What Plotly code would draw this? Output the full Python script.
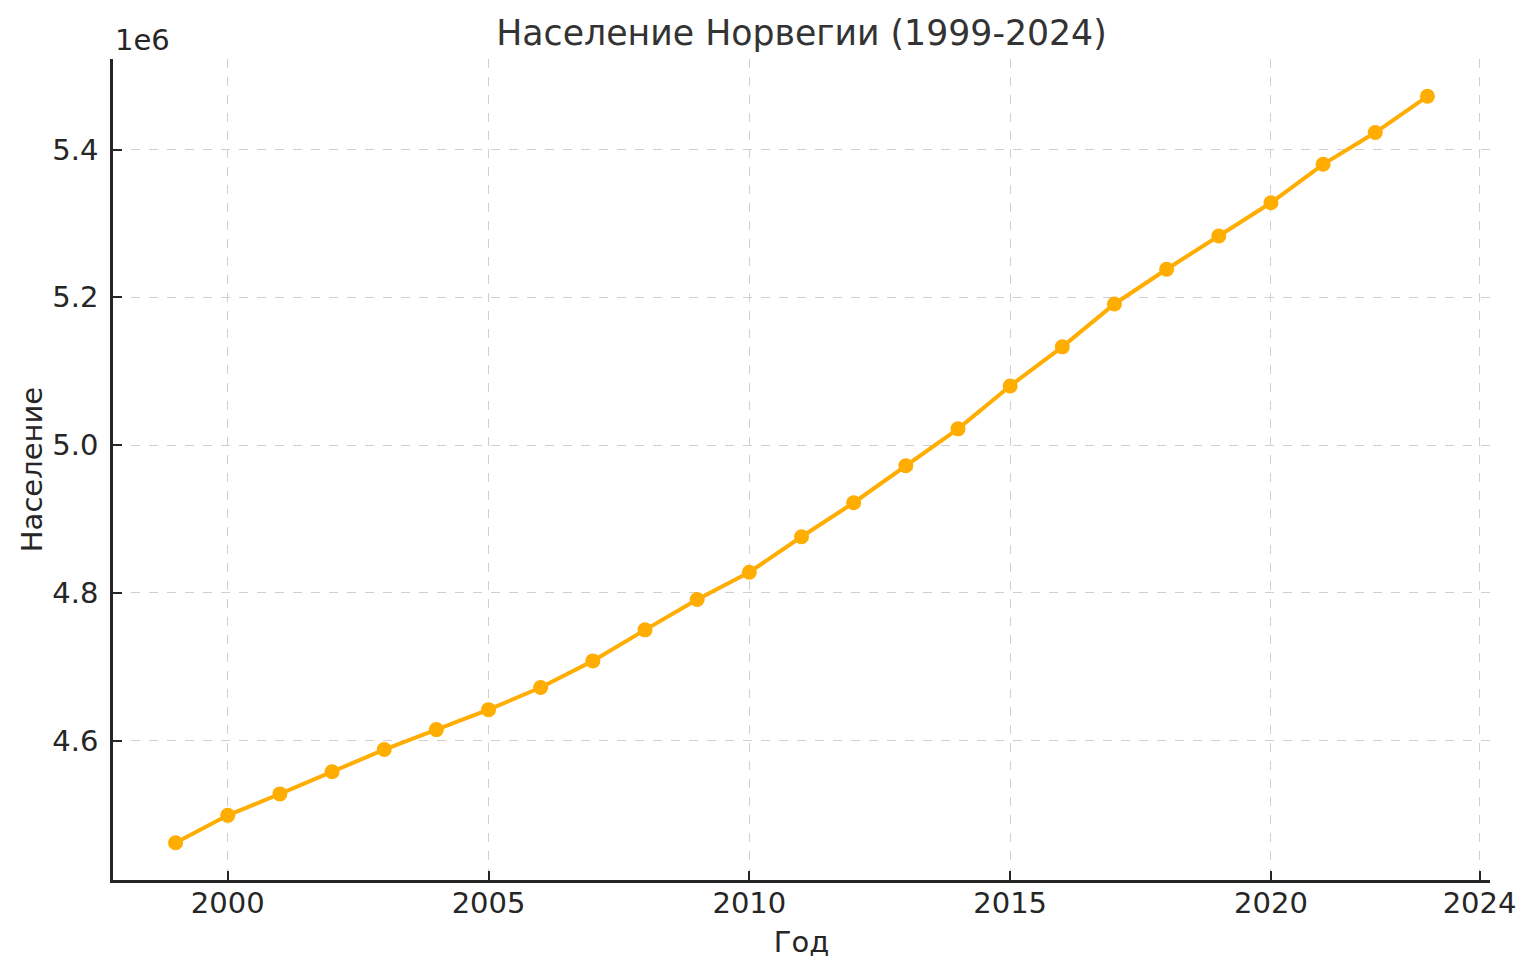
import plotly.graph_objects as go

# население Норвегии
years = list(range(1999, 2024))
population = [
    4462000, 4499000, 4528000, 4558000, 4588000, 4615000, 4642000, 4672000,
    4708000, 4750000, 4791000, 4828000, 4876000, 4922000, 4972000, 5022000,
    5080000, 5133000, 5191000, 5238000, 5283000, 5328000, 5380000, 5423000,
    5472000,
]
x_ticks = [2000, 2005, 2010, 2015, 2020, 2024]
y_ticks = [4.6e6, 4.8e6, 5.0e6, 5.2e6, 5.4e6]
y_ticklabels = ["4.6", "4.8", "5.0", "5.2", "5.4"]

FONT = "DejaVu Sans"
INK = "#262626"
FS = 29

fig = go.Figure()
fig.add_trace(go.Scatter(
    x=years, y=population, mode="lines+markers",
    line=dict(color="#FFAD00", width=4),
    marker=dict(color="#FFAD00", size=15),
    showlegend=False,
))

axis_style = dict(
    showline=True, linecolor=INK, linewidth=2.5,
    ticks="inside", ticklen=9, tickwidth=2, tickcolor=INK,
    showgrid=True, gridcolor="#cfcfcf", griddash="dash", gridwidth=1,
    zeroline=False, automargin=False,
    tickfont=dict(family=FONT, size=FS, color=INK),
)

fig.update_xaxes(
    range=[1997.8, 2024.2], tickvals=x_ticks, **axis_style,
    ticklabelstandoff=-5,
    title=dict(text="Год", font=dict(family=FONT, size=FS, color=INK), standoff=14),
)
fig.update_yaxes(
    range=[4.4115e6, 5.5225e6], tickvals=y_ticks, ticktext=y_ticklabels, **axis_style,
    ticklabelstandoff=6,
    title=dict(text="Население", font=dict(family=FONT, size=FS, color=INK), standoff=2),
)

fig.add_annotation(
    text="1e6", xref="paper", yref="paper", x=0, y=1.0,
    xanchor="left", yanchor="bottom", showarrow=False,
    font=dict(family=FONT, size=FS, color=INK),
)

# the page keeps an 8px body margin, so the figure is a bit smaller than the window
fig.update_layout(
    width=1520, height=959,
    margin=dict(l=105, r=38, t=51, b=87),
    plot_bgcolor="white", paper_bgcolor="white",
    title=dict(
        text="Население Норвегии (1999-2024)",
        x=0.5, xref="paper", xanchor="center",
        y=1 - 25 / 959, yref="container", yanchor="middle",
        font=dict(family=FONT, size=34.7, color="#333333"),
    ),
)

fig.write_html("out.html")
